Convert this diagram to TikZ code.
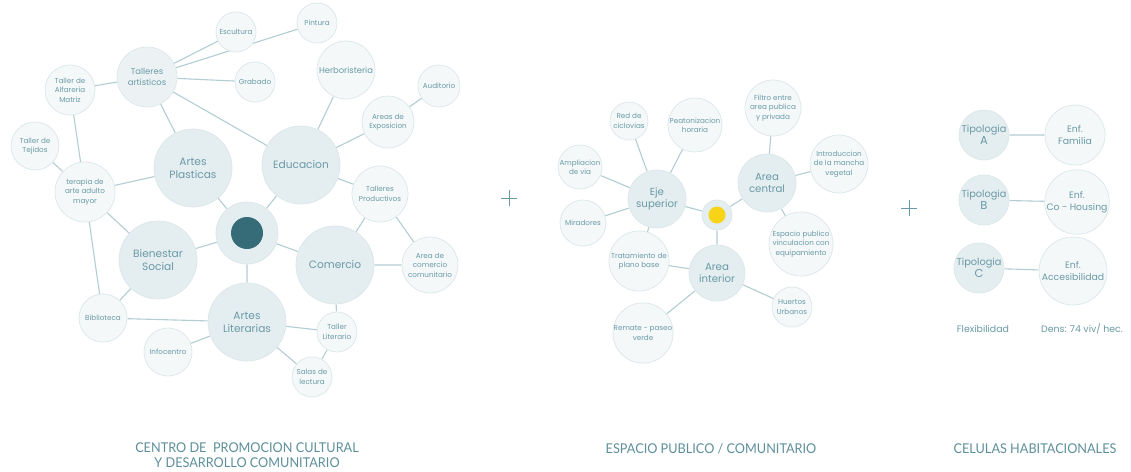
\documentclass[tikz,border=0pt]{standalone}
\usepackage{fontspec}
\setmainfont{Poppins}
\newfontfamily\titlefont{Lato}[FakeStretch=0.94]
\usetikzlibrary{backgrounds}

\definecolor{hubfill}{HTML}{E4EDF0}
\definecolor{midfill}{HTML}{ECF2F4}
\definecolor{leaffill}{HTML}{F4F8F9}
\definecolor{rim}{HTML}{DCE7EA}
\definecolor{wire}{HTML}{B3CDD3}
\definecolor{ink}{HTML}{6A9AA6}
\definecolor{titleink}{HTML}{5E8F9B}
\definecolor{core}{HTML}{356C78}
\definecolor{sun}{HTML}{F7D418}

\tikzset{
  bub/.style={circle, draw=rim, line width=0.7pt, inner sep=0pt,
              minimum size=#1, align=center, text=ink},
  hub/.style={fill=hubfill},
  mid/.style={fill=midfill},
  leaf/.style={fill=leaffill},
  ft/.style={font=\fontsize{7.2}{9.4}\selectfont},
  fs/.style={font=\fontsize{8.4}{10.5}\selectfont},
  fm/.style={font=\fontsize{10.2}{12.5}\selectfont},
  fl/.style={font=\fontsize{10.6}{12.8}\selectfont},
  fr/.style={font=\fontsize{9.3}{12}\selectfont},
  ftyp/.style={font=\fontsize{9.8}{12.5}\selectfont},
  link/.style={draw=wire, line width=1.1pt},
  plus/.style={draw=ink, line width=0.8pt},
  caption/.style={text=titleink, align=center,
                  font=\titlefont\fontsize{13.5}{15}\selectfont},
  note/.style={text=ink, font=\fontsize{9.4}{11}\selectfont}
}

\begin{document}
\begin{tikzpicture}[x=1pt,y=-1pt]
\useasboundingbox (0,0) rectangle (1131,471);

% ---------- cultural centre ----------
\node[bub=62pt, hub] (c0) at (247,233) {};
\node[circle, fill=core, inner sep=0pt, minimum size=32pt] (c0dot) at (c0) {};
\node[bub=78pt, hub, fl] (ap) at (193,168) {Artes\\Plasticas};
\node[bub=78pt, hub, fl] (ed) at (301,165) {Educacion};
\node[bub=78pt, hub, fl] (bs) at (158,260) {Bienestar\\Social};
\node[bub=78pt, hub, fl] (co) at (335,265) {Comercio};
\node[bub=78pt, hub, fl] (al) at (247,322) {Artes\\Literarias};
\node[bub=60pt, mid, fs] (ta) at (147,77) {Talleres\\artisticos};
\node[bub=40pt, leaf, ft] (es) at (236,32) {Escultura};
\node[bub=40pt, leaf, ft] (pi) at (317,23) {Pintura};
\node[bub=40pt, leaf, ft] (gr) at (255,82) {Grabado};
\node[bub=58pt, leaf, fs] (he) at (346,70) {Herboristeria};
\node[bub=42pt, leaf, ft] (au) at (439,86) {Auditorio};
\node[bub=52pt, leaf, ft] (ae) at (388,122) {Areas de\\Exposicion};
\node[bub=50pt, leaf, ft] (tal) at (70,90) {Taller de\\Alfareria\\Matriz};
\node[bub=48pt, leaf, ft] (tej) at (35,146) {Taller de\\Tejidos};
\node[bub=60pt, leaf, ft] (ter) at (85,192) {terapia de\\arte adulto\\mayor};
\node[bub=56pt, leaf, ft] (tp) at (380,194) {Talleres\\Productivos};
\node[bub=56pt, leaf, ft] (acc) at (430,265) {Area de\\comercio\\comunitario};
\node[bub=48pt, leaf, ft] (bib) at (103,318) {Biblioteca};
\node[bub=48pt, leaf, ft] (inf) at (168,352) {Infocentro};
\node[bub=40pt, leaf, ft] (tl) at (337,332) {Taller\\Literario};
\node[bub=40pt, leaf, ft] (sl) at (312,377) {Salas de\\lectura};

% ---------- public space ----------
\node[bub=30pt, hub] (c1) at (717,215) {};
\node[circle, fill=sun, inner sep=0pt, minimum size=17pt] (c1dot) at (c1) {};
\node[bub=58pt, hub, fm] (eje) at (657,199) {Eje\\superior};
\node[bub=58pt, hub, fm] (acn) at (767,183) {Area\\central};
\node[bub=56pt, hub, fm] (ain) at (717,273) {Area\\interior};
\node[bub=38pt, leaf, ft] (rc) at (629,121) {Red de\\ciclovias};
\node[bub=54pt, leaf, ft] (pe) at (695,125) {Peatonizacion\\horaria};
\node[bub=44pt, leaf, ft] (am) at (580,167) {Ampliacion\\de via};
\node[bub=46pt, leaf, ft] (mi) at (583,223) {Miradores};
\node[bub=60pt, leaf, ft] (tr) at (639,261) {Tratamiento de\\plano base};
\node[bub=60pt, leaf, ft] (rem) at (643,333) {Remate - paseo\\verde};
\node[bub=40pt, leaf, ft] (hu) at (792,307) {Huertos\\Urbanos};
\node[bub=64pt, leaf, ft] (ep) at (801,244) {Espacio publico\\vinculacion con\\equipamiento};
\node[bub=58pt, leaf, ft] (intr) at (839,164) {Introduccion\\de la mancha\\vegetal};
\node[bub=56pt, leaf, ft] (fi) at (773,108) {Filtro entre\\area publica\\y privada};

% ---------- housing cells ----------
\node[bub=50pt, hub, ftyp] (tA) at (984,135) {Tipologia\\{\fontsize{11.5}{12}\selectfont A}};
\node[bub=50pt, hub, ftyp] (tB) at (984,200) {Tipologia\\{\fontsize{11.5}{12}\selectfont B}};
\node[bub=50pt, hub, ftyp] (tC) at (979,268) {Tipologia\\{\fontsize{11.5}{12}\selectfont C}};
\node[bub=60pt, leaf, fr] (fA) at (1075,135) {Enf.\\Familia};
\node[bub=60pt, leaf, fr] (fB) at (1077,202) {Enf.\\Co - Housing};
\node[bub=68pt, leaf, fr] (fC) at (1073,271) {Enf.\\Accesibilidad};
\node[note] (flex) at (983,329) {Flexibilidad};
\node[note] (dens) at (1082,329) {Dens: 74 viv/ hec.};

% ---------- plus signs ----------
\coordinate (p1) at (509,198);
\coordinate (p2) at (909,208);
\draw[plus] ([xshift=-8pt]p1) -- ([xshift=8pt]p1) ([yshift=-8pt]p1) -- ([yshift=8pt]p1);
\draw[plus] ([xshift=-8pt]p2) -- ([xshift=8pt]p2) ([yshift=-8pt]p2) -- ([yshift=8pt]p2);

% ---------- captions ----------
\node[caption] (cap1) at (247,455) {CENTRO DE \ PROMOCION CULTURAL\\Y DESARROLLO COMUNITARIO};
\node[caption] (cap2) at (711,449) {ESPACIO PUBLICO / COMUNITARIO};
\node[caption] (cap3) at (1035,449) {CELULAS HABITACIONALES};

% ---------- connectors ----------
\begin{scope}[on background layer]
  \fill[white] (0,0) rectangle (1131,471);
  \path[link]
    (ta) -- (es)  (ta) -- (pi)  (ta) -- (gr)  (ta) -- (tal)
    (ta) -- (ap)  (ta) -- (ed)
    (tal) -- (ter)  (tej) -- (ter)  (ter) -- (ap)  (ter) -- (bs)  (ter) -- (bib)
    (he) -- (ed)  (ae) -- (ed)  (au) -- (ae)  (ed) -- (tp)
    (c0) -- (ap)  (c0) -- (ed)  (c0) -- (bs)  (c0) -- (co)  (c0) -- (al)
    (tp) -- (co)  (tp) -- (acc)  (co) -- (acc)  (co) -- (tl)
    (bs) -- (bib)  (bib) -- (al)  (inf) -- (al)
    (al) -- (tl)  (al) -- (sl)  (tl) -- (sl);
  \path[link]
    (eje) -- (rc)  (eje) -- (pe)  (eje) -- (am)  (eje) -- (mi)  (eje) -- (tr)  (eje) -- (c1)
    (acn) -- (fi)  (acn) -- (intr)  (acn) -- (ep)  (acn) -- (c1)
    (ain) -- (c1)  (ain) -- (tr)  (ain) -- (rem)  (ain) -- (hu);
  \path[link] (tA) -- (fA)  (tB) -- (fB)  (tC) -- (fC);
\end{scope}
\end{tikzpicture}
\end{document}
